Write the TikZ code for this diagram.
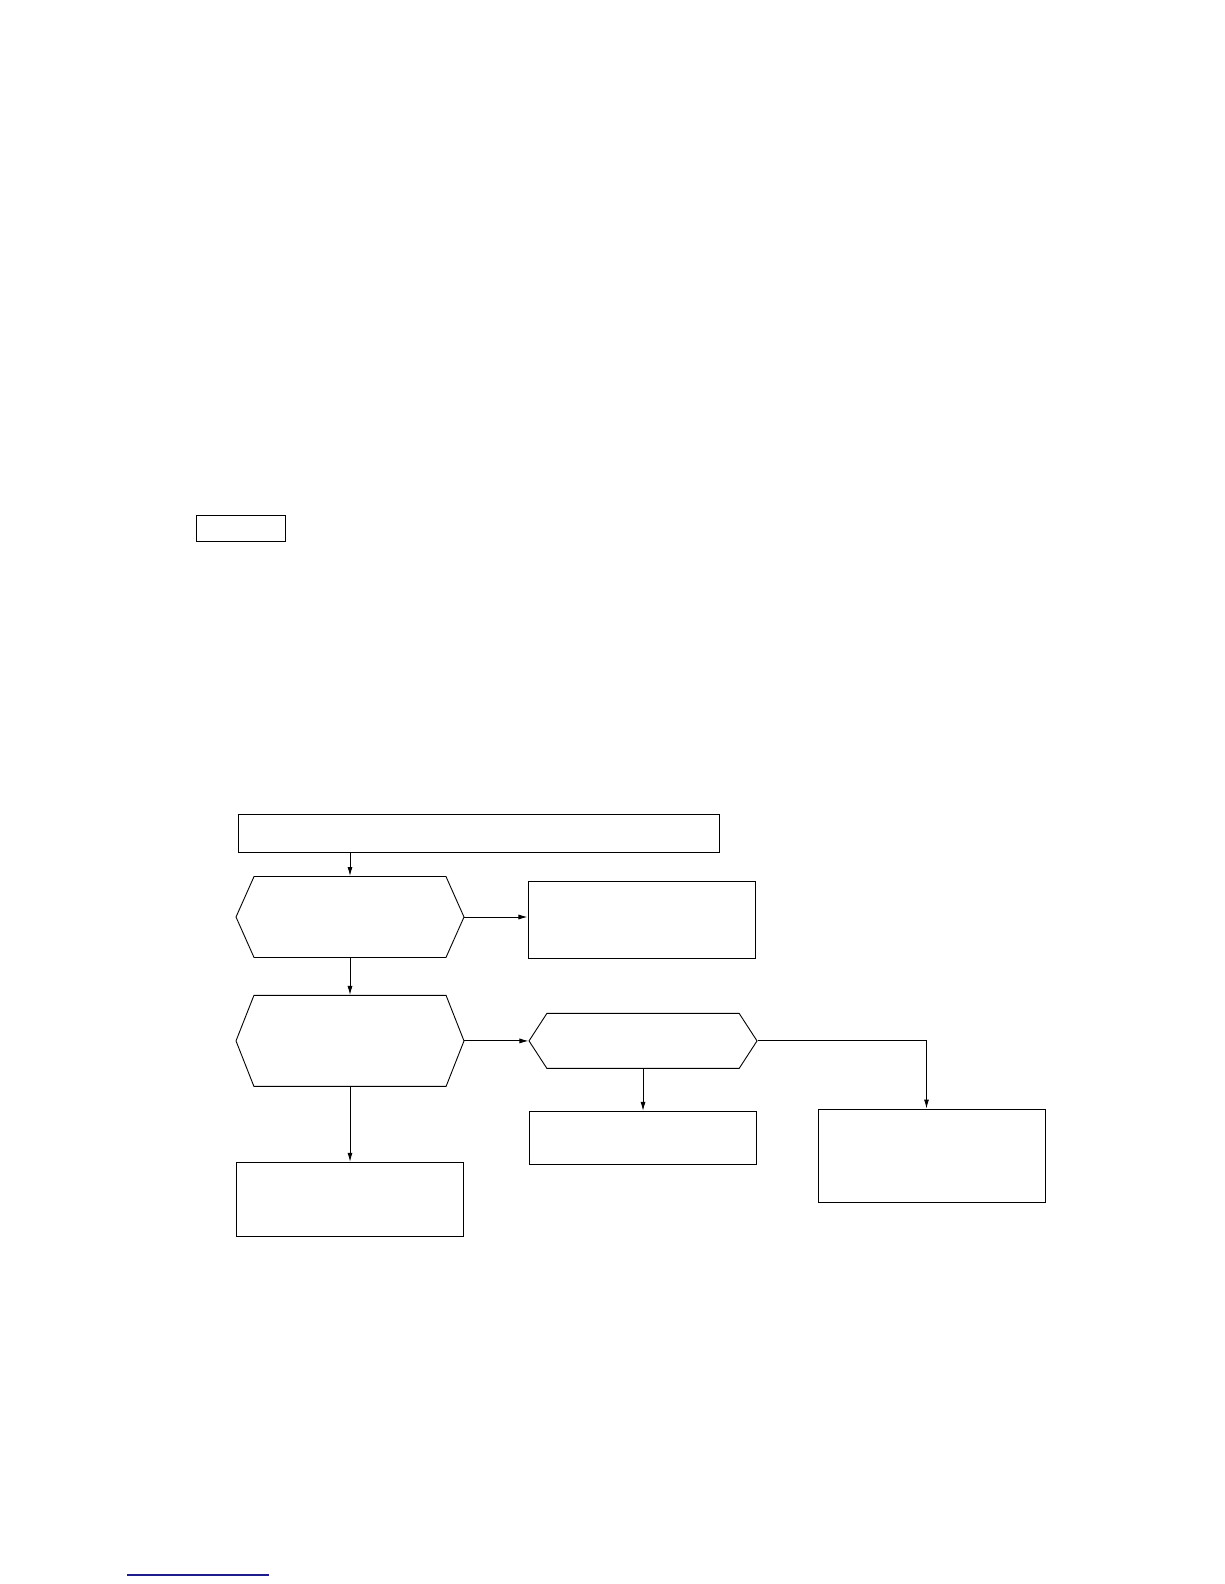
\documentclass[tikz,border=0pt]{standalone}
\usetikzlibrary{positioning,shapes.symbols,arrows.meta}
\definecolor{linkblue}{RGB}{28,28,140}

\begin{document}
\begin{tikzpicture}[x=1pt, y=-1pt, >={Latex[length=9pt,width=5pt]}, line width=0.9pt,
  block/.style={rectangle, draw, minimum width=227pt, inner sep=0pt},
  hexa/.style={signal, signal to=west and east, draw, minimum width=228pt, inner sep=0pt},]
   \useasboundingbox (0,0) rectangle (1224,1584);
   \node[rectangle, draw, minimum width=89pt, minimum height=26pt, inner sep=0pt] (tag) at (240.5,528) {};
   \node[block, minimum width=481pt, minimum height=38pt] (start) at (478.5,833) {};
   \node[hexa, minimum height=81pt, signal pointer angle=132] (Q1) at (350,917) {};
   \node[hexa, minimum height=91pt, signal pointer angle=137, below=37pt of Q1] (Q2) {};
   \node[block, minimum height=74pt, below=75pt of Q2] (R4) {};
   \node[block, minimum height=77pt, right=63pt of Q1, yshift=-3pt] (R1) {};
   \node[hexa, minimum height=55pt, signal pointer angle=114, right=64pt of Q2] (Q3) {};
   \node[block, minimum height=53pt, below=42pt of Q3] (R2) {};
   \node[block, minimum height=93pt] (R3) at (931.5,1155.5) {};
   \draw[->] (start.south -| Q1.north) -- (Q1.north);
   \draw[->] (Q1.east) -- (Q1.east -| R1.west);
   \draw[->] (Q1.south) -- (Q2.north);
   \draw[->] (Q2.east) -- (Q3.west);
   \draw[->] (Q2.south) -- (Q2.south |- R4.north);
   \draw[->] (Q3.south) -- (Q3.south |- R2.north);
   \draw[->] (Q3.east) -| ([xshift=-5pt]R3.north);
   \draw[linkblue, line width=1.2pt] (127,1575) -- (269,1575);
\end{tikzpicture}
\end{document}
